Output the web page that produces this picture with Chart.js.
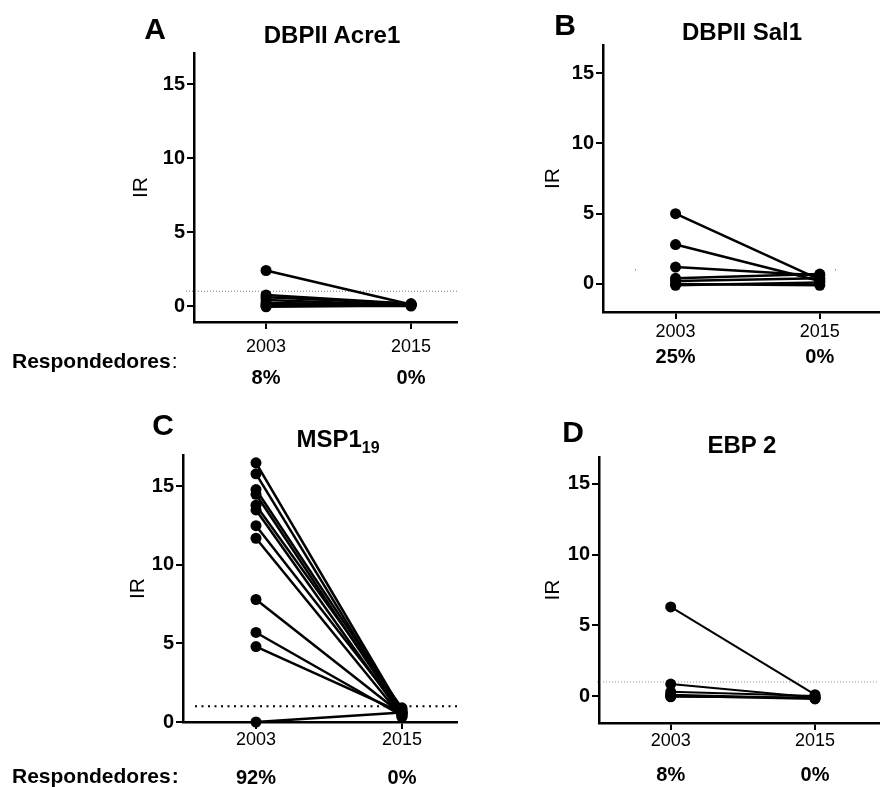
<!DOCTYPE html>
<html lang="en">
<head>
<meta charset="UTF-8">
<title>IR 2003 vs 2015</title>
<script src="https://cdn.jsdelivr.net/npm/chart.js"></script>
<style>
  body { margin: 0; background: #fff; font-family: Arial, "Liberation Sans", sans-serif; }
  #page { position: relative; width: 884px; height: 787px; overflow: hidden; }
  canvas { position: absolute; }
  .letter, .title { position: absolute; font-weight: bold; line-height: 1; white-space: nowrap; transform: translate(-50%, -50%); color: #000; }
  .letter { font-size: 30px; }
  .title { font-size: 24px; }
  .title sub { font-size: 16px; line-height: 0; vertical-align: -6px; }
</style>
</head>
<body>
<div id="page">
  <canvas id="chartA" width="470" height="400" style="left:0;top:0"></canvas>
  <canvas id="chartB" width="414" height="400" style="left:470px;top:0"></canvas>
  <canvas id="chartC" width="470" height="387" style="left:0;top:400px"></canvas>
  <canvas id="chartD" width="414" height="387" style="left:470px;top:400px"></canvas>

  <div class="letter" style="left:155px;top:29px">A</div>
  <div class="title" style="left:332px;top:35px">DBPII Acre1</div>
  <div class="letter" style="left:565px;top:25px">B</div>
  <div class="title" style="left:742px;top:32px">DBPII Sal1</div>
  <div class="letter" style="left:163px;top:425px">C</div>
  <div class="title" style="left:338px;top:439px">MSP1<sub>19</sub></div>
  <div class="letter" style="left:573px;top:432px">D</div>
  <div class="title" style="left:742px;top:445px">EBP 2</div>
</div>

<script>
    const years = ['2003', '2015'];
    const yTicks = [0, 5, 10, 15];
    const cutoff = 1;

    // DBPII Acre1 (each position = one individual, 2003 -> 2015)
    const acre1_2003 = [2.4, 0.75, 0.6, 0.4, 0.2, 0.1, 0.0, -0.05];
    const acre1_2015 = [0.1, 0.15, 0.15, 0.05, 0.1, 0.1, 0.0, 0.05];
    const acre1Resp = ['8%', '0%'];

    // DBPII Sal1
    const sal1_2003 = [5.0, 2.8, 1.2, 0.4, 0.2, 0.0, -0.1];
    const sal1_2015 = [0.3, 0.2, 0.6, 0.7, 0.4, -0.1, 0.1];
    const sal1Resp = ['25%', '0%'];

    // MSP1-19
    const msp_2003 = [16.5, 15.8, 14.8, 14.5, 13.8, 13.5, 12.5, 11.7, 7.8, 5.7, 4.8, 0.0];
    const msp_2015 = [0.7, 0.6, 0.8, 0.5, 0.9, 0.4, 0.6, 0.3, 0.5, 0.4, 0.6, 0.6];
    const mspResp = ['92%', '0%'];

    // EBP 2
    const ebp_2003 = [6.3, 0.85, 0.3, 0.1, 0.0, -0.05];
    const ebp_2015 = [0.1, -0.1, 0.0, -0.15, -0.2, -0.1];
    const ebpResp = ['8%', '0%'];

    const FONT = 'Arial, "Liberation Sans", sans-serif';
    Chart.defaults.font.family = FONT;
    Chart.defaults.color = '#000';

    // dotted cutoff line + the responder percentages under each year
    const extras = {
        id: 'extras',
        beforeDatasetsDraw(chart, args, o) {
            const { ctx, chartArea, scales } = chart;
            const y = scales.y.getPixelForValue(cutoff);
            ctx.save();
            ctx.strokeStyle = o.cutColor;
            ctx.lineWidth = o.cutWidth;
            ctx.setLineDash(o.cutDash);
            ctx.beginPath();
            ctx.moveTo(chartArea.left + o.cutStart, y);
            ctx.lineTo(chartArea.right, y);
            ctx.stroke();
            ctx.restore();
        },
        afterDraw(chart, args, o) {
            const { ctx, chartArea, scales } = chart;
            ctx.save();
            ctx.fillStyle = '#000';
            ctx.font = 'bold 20px ' + FONT;
            ctx.textAlign = 'center';
            ctx.textBaseline = 'middle';
            o.resp.forEach((t, i) => {
                ctx.fillText(t, scales.x.getPixelForValue(i), chartArea.bottom + o.respOffset);
            });
            if (o.rowLabel) {
                const y = chartArea.bottom + o.rowOffset;
                ctx.textAlign = 'left';
                ctx.font = 'bold 21px ' + FONT;
                ctx.fillText(o.rowLabel, o.rowX, y);
                const w = ctx.measureText(o.rowLabel).width;
                ctx.font = (o.colonBold ? 'bold ' : '') + '21px ' + FONT;
                ctx.fillText(':', o.rowX + w + 1, y);
            }
            ctx.restore();
        }
    };

    function makeChart(id, v2003, v2015, p) {
        const datasets = v2003.map((v, i) => ({
            data: [{ x: 0, y: v }, { x: 1, y: v2015[i] }],
            borderColor: '#000',
            backgroundColor: '#000',
            borderWidth: p.lineWidth,
            pointRadius: 5.5,
            pointBorderWidth: 0,
            clip: false
        }));

        new Chart(document.getElementById(id), {
            type: 'line',
            data: { datasets: datasets },
            options: {
                responsive: false,
                animation: false,
                layout: { padding: { left: p.padLeft, top: p.padTop, right: p.padRight, bottom: 0 } },
                plugins: {
                    legend: { display: false },
                    tooltip: { enabled: false },
                    extras: p.extras
                },
                scales: {
                    x: {
                        type: 'linear',
                        min: p.xMin,
                        max: p.xMax,
                        afterBuildTicks: s => { s.ticks = years.map((y, i) => ({ value: i })); },
                        afterFit: s => { s.height = p.xHeight; },
                        ticks: {
                            callback: (v, i) => years[i],
                            font: { size: 18 },
                            padding: p.tickPad,
                            maxRotation: 0,
                            autoSkip: false
                        },
                        grid: { drawOnChartArea: false, drawTicks: true, tickLength: 7, color: '#000', lineWidth: 2 },
                        border: { color: '#000', width: 2.5 }
                    },
                    y: {
                        min: p.yMin,
                        max: p.yMax,
                        afterBuildTicks: s => { s.ticks = yTicks.map(v => ({ value: v })); },
                        afterFit: s => { s.width = p.yWidth; },
                        ticks: { font: { size: 20, weight: 'bold' }, padding: 2 },
                        grid: { drawOnChartArea: false, drawTicks: true, tickLength: 7, color: '#000', lineWidth: 2 },
                        border: { color: '#000', width: 2.5 },
                        title: { display: true, text: 'IR', font: { size: 21 }, padding: 0 }
                    }
                }
            },
            plugins: [extras]
        });
    }

    makeChart('chartA', acre1_2003, acre1_2015, {
        padLeft: 129, padTop: 53, padRight: 13, yWidth: 65, xHeight: 78,
        xMin: -0.497, xMax: 1.317, yMin: -1.08, yMax: 17.1, tickPad: 7, lineWidth: 2.5,
        extras: { resp: acre1Resp, respOffset: 56, rowLabel: 'Respondedores', rowX: 12, rowOffset: 40, colonBold: false,
                  cutColor: '#777', cutWidth: 1, cutDash: [1, 2], cutStart: -8 }
    });

    makeChart('chartB', sal1_2003, sal1_2015, {
        padLeft: 71, padTop: 45, padRight: 4, yWidth: 62, xHeight: 88,
        xMin: -0.503, xMax: 1.407, yMin: -2.0, yMax: 17.0, tickPad: 2, lineWidth: 2.5,
        extras: { resp: sal1Resp, respOffset: 45, rowLabel: null,
                  cutColor: '#555', cutWidth: 1, cutDash: [1, 99], cutStart: 32 }
    });

    makeChart('chartC', msp_2003, msp_2015, {
        padLeft: 126, padTop: 55, padRight: 13, yWidth: 57, xHeight: 65,
        xMin: -0.5, xMax: 1.377, yMin: 0, yMax: 17.0, tickPad: 0, lineWidth: 2.5,
        extras: { resp: mspResp, respOffset: 56, rowLabel: 'Respondedores', rowX: 12, rowOffset: 55, colonBold: true,
                  cutColor: '#000', cutWidth: 2, cutDash: [2, 4.5], cutStart: 12 }
    });

    makeChart('chartD', ebp_2003, ebp_2015, {
        padLeft: 71, padTop: 57, padRight: 0, yWidth: 58, xHeight: 64,
        xMin: -0.497, xMax: 1.44, yMin: -1.9, yMax: 16.9, tickPad: 0, lineWidth: 2,
        extras: { resp: ebpResp, respOffset: 52, rowLabel: null,
                  cutColor: '#999', cutWidth: 1, cutDash: [1, 2], cutStart: -2 }
    });
</script>
</body>
</html>
